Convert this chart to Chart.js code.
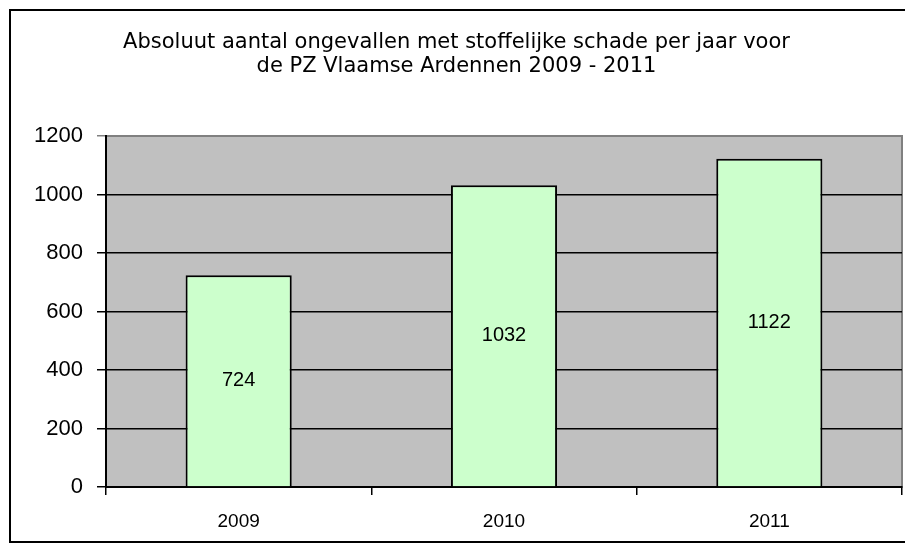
<!DOCTYPE html>
<html lang="nl">
<head>
    <meta charset="UTF-8">
    <title>Ongevallen met stoffelijke schade</title>
    <script src="https://cdn.jsdelivr.net/npm/chart.js"></script>
    <style>
        html, body { margin: 0; padding: 0; background: #fff; overflow: hidden; }
        #frame {
            position: absolute; left: 9px; top: 9px;
            width: 905px; height: 530px;
            border: 2px solid #000;
        }
        #frame canvas { display: block; }
    </style>
</head>
<body>
    <div id="frame">
        <canvas id="chart" width="905" height="530"></canvas>
    </div>

    <script>
        // data
        const years = ['2009', '2010', '2011'];
        const accidents = [724, 1032, 1122];
        const titleLines = [
            'Absoluut aantal ongevallen met stoffelijke schade per jaar voor',
            'de PZ Vlaamse Ardennen 2009 - 2011'
        ];

        // grey plot background + grey frame on top/right
        const plotBackground = {
            id: 'plotBackground',
            beforeDraw(chart) {
                const { ctx, chartArea: a } = chart;
                ctx.save();
                ctx.fillStyle = '#c0c0c0';
                ctx.fillRect(a.left, a.top, a.right - a.left, a.bottom - a.top);
                ctx.strokeStyle = '#808080';
                ctx.lineWidth = 2;
                ctx.strokeRect(a.left, a.top, a.right - a.left, a.bottom - a.top);
                ctx.restore();
            }
        };

        // value written in the middle of each bar
        const barValues = {
            id: 'barValues',
            afterDatasetsDraw(chart) {
                const { ctx } = chart;
                const meta = chart.getDatasetMeta(0);
                ctx.save();
                ctx.font = '20px "Liberation Sans", Arial, sans-serif';
                ctx.fillStyle = '#000';
                ctx.textAlign = 'center';
                ctx.textBaseline = 'middle';
                meta.data.forEach((bar, i) => {
                    const p = bar.getProps(['x', 'y', 'base'], true);
                    ctx.fillText(chart.data.datasets[0].data[i], p.x, (p.y + p.base) / 2);
                });
                ctx.restore();
            }
        };

        const ctx = document.getElementById('chart').getContext('2d');
        new Chart(ctx, {
            type: 'bar',
            data: {
                labels: years,
                datasets: [{
                    data: accidents,
                    backgroundColor: '#ccffcc',
                    borderColor: '#000',
                    borderWidth: 2,
                    barPercentage: 0.4,
                    categoryPercentage: 1
                }]
            },
            options: {
                responsive: false,
                animation: false,
                layout: { padding: { left: 0, right: 14, top: 0, bottom: 8 } },
                plugins: {
                    legend: { display: false },
                    tooltip: { enabled: false },
                    title: {
                        display: true,
                        text: titleLines,
                        color: '#000',
                        font: { family: '"DejaVu Sans", Verdana, sans-serif', size: 21, weight: 'normal', lineHeight: 1.143 },
                        padding: { top: 20, bottom: 57 }
                    }
                },
                scales: {
                    x: {
                        afterFit(scale) { scale.height = 46; },
                        grid: {
                            offset: true,
                            drawOnChartArea: false,
                            color: '#000',
                            lineWidth: 1.5,
                            tickLength: 8
                        },
                        border: { color: '#000', width: 2 },
                        ticks: {
                            color: '#000',
                            padding: 15,
                            font: { family: '"Liberation Sans", Arial, sans-serif', size: 19 }
                        }
                    },
                    y: {
                        min: 0,
                        max: 1200,
                        afterFit(scale) { scale.width = 95; },
                        grid: {
                            color: (c) => c.tick && c.tick.value === 1200 ? '#808080' : '#000',
                            lineWidth: 1.5,
                            tickLength: 9
                        },
                        border: { color: '#000', width: 2 },
                        ticks: {
                            stepSize: 200,
                            color: '#000',
                            padding: 14,
                            callback: (v) => String(v),
                            font: { family: '"Liberation Sans", Arial, sans-serif', size: 22 }
                        }
                    }
                }
            },
            plugins: [plotBackground, barValues]
        });
    </script>
</body>
</html>
